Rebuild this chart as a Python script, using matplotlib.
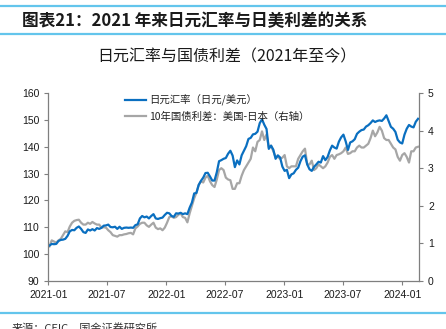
import matplotlib
matplotlib.use("Agg")
import matplotlib.pyplot as plt
import matplotlib.dates as mdates
from matplotlib.lines import Line2D
import pandas as pd

plt.rcParams['font.family'] = ['Liberation Sans', 'Noto Sans CJK SC', 'DejaVu Sans']
CJK = ['Noto Sans CJK SC', 'DejaVu Sans']

# weekly readings (Mondays), 2021-01-04 .. 2024-02-19
usdjpy = [
    103.2, 103.8, 103.7, 103.8,
    104.9, 105.3, 105.4, 105.7,
    106.8, 108.5, 109.0, 108.9, 109.8,
    110.3, 109.4, 108.2, 107.9,
    109.2, 108.8, 109.3, 108.8, 109.7,
    109.4, 109.8, 110.6, 110.7,
    111.0, 110.1, 110.0, 110.2,
    109.4, 110.2, 109.4, 109.8, 109.9,
    109.8, 109.9, 109.8, 110.8,
    111.1, 113.3, 114.2, 113.7,
    114.0, 113.3, 114.2, 114.9, 113.3,
    113.1, 113.4, 113.6, 114.6,
    115.4, 115.2, 114.2, 113.9, 115.2,
    115.1, 115.4, 114.9, 115.2,
    114.9, 117.3, 119.2, 122.6,
    122.8, 125.8, 127.3, 128.5,
    130.2, 130.3, 128.9, 127.4, 127.4,
    130.5, 134.6, 135.0, 135.5,
    135.8, 137.4, 138.5, 136.7,
    132.4, 134.9, 133.4, 136.8, 138.5,
    140.2, 142.9, 143.3, 144.6,
    144.8, 145.6, 148.8, 150.2, 148.2,
    146.6, 139.2, 140.4, 138.9,
    135.5, 136.8, 136.0, 132.6,
    131.0, 131.4, 128.3, 129.7, 130.1,
    131.4, 132.2, 134.6, 136.3,
    136.8, 133.4, 131.6, 131.0,
    132.5, 133.4, 134.4, 134.1,
    136.5, 135.0, 136.2, 138.6, 140.4,
    139.7, 139.3, 141.9, 143.5,
    144.5, 142.0, 138.8, 141.6, 142.0,
    142.8, 144.8, 145.6, 146.2,
    146.4, 147.5, 148.0, 148.8,
    149.8, 149.2, 149.6, 149.8, 149.6,
    150.5, 151.7, 149.6, 147.4,
    146.7, 145.5, 142.6, 141.6,
    141.2, 144.5, 146.7, 148.1, 147.5,
    147.2, 149.3, 150.4,
]

spread = [
    0.92, 1.08, 1.05, 1.02,
    1.08, 1.12, 1.22, 1.32,
    1.30, 1.45, 1.55, 1.60, 1.62,
    1.63, 1.55, 1.50, 1.50,
    1.55, 1.52, 1.57, 1.53, 1.50,
    1.50, 1.42, 1.43, 1.42,
    1.35, 1.30, 1.22, 1.20,
    1.18, 1.22, 1.22, 1.24, 1.25,
    1.27, 1.28, 1.24, 1.40,
    1.45, 1.52, 1.55, 1.55,
    1.48, 1.44, 1.50, 1.55, 1.42,
    1.38, 1.40, 1.35, 1.42,
    1.55, 1.70, 1.72, 1.68, 1.70,
    1.76, 1.80, 1.70, 1.68,
    1.56, 1.80, 2.00, 2.20,
    2.35, 2.55, 2.65, 2.62,
    2.75, 2.80, 2.65, 2.55, 2.50,
    2.70, 2.95, 3.00, 2.95,
    2.75, 2.70, 2.68, 2.45,
    2.45, 2.60, 2.60, 2.80, 2.95,
    3.05, 3.15, 3.25, 3.55,
    3.45, 3.70, 3.75, 3.98, 3.75,
    3.90, 3.55, 3.60, 3.45,
    3.30, 3.30, 3.25, 3.28,
    3.35, 3.05, 3.00, 3.05, 3.05,
    3.05, 3.25, 3.35, 3.45,
    3.52, 3.10, 3.10, 3.20,
    2.95, 3.00, 3.10, 3.05,
    3.00, 3.05, 3.15, 3.30, 3.35,
    3.25, 3.35, 3.37, 3.40,
    3.45, 3.55, 3.38, 3.40, 3.45,
    3.45, 3.55, 3.60, 3.55,
    3.55, 3.60, 3.65, 3.80,
    4.00, 3.85, 3.95, 4.10, 4.00,
    3.80, 3.75, 3.75, 3.65,
    3.55, 3.50, 3.30, 3.20,
    3.35, 3.40, 3.30, 3.15, 3.45,
    3.45, 3.55, 3.57,
]

dates = pd.date_range('2021-01-04', periods=len(usdjpy), freq='7D')
tick_dates = pd.to_datetime(['2021-01-01', '2021-07-01', '2022-01-01', '2022-07-01',
                             '2023-01-01', '2023-07-01', '2024-01-01'])

BLUE = '#0a6fc0'
GREY = '#a6a6a6'
SKY = '#63c5ec'
AXC = '#7f7f7f'

fig = plt.figure(figsize=(4.46, 3.29), dpi=100)
ax = fig.add_axes([0.1087, 0.1459, 0.8308, 0.5714])
ax2 = ax.twinx()

l1, = ax.plot(dates, usdjpy, color=BLUE, lw=1.6)
l2, = ax2.plot(dates, spread, color=GREY, lw=1.6)

ax.set_ylim(90, 160)
ax.set_yticks(range(90, 161, 10))
ax2.set_ylim(0, 5)
ax2.set_yticks(range(0, 6))
ax.set_xlim(pd.Timestamp('2021-01-01'), pd.Timestamp('2024-02-22'))
ax.set_xticks(tick_dates)
ax.xaxis.set_major_formatter(mdates.DateFormatter('%Y-%m'))

for a in (ax, ax2):
    a.spines['top'].set_visible(False)
    for s in ('left', 'right', 'bottom'):
        a.spines[s].set_color(AXC)
        a.spines[s].set_linewidth(0.9)
    a.tick_params(colors=AXC, labelcolor='#1a1a1a', labelsize=7.5, length=3, width=0.8)
ax.spines['right'].set_visible(False)
ax2.spines['left'].set_visible(False)
ax2.spines['bottom'].set_visible(False)

leg = ax.legend([l1, l2], ['日元汇率（日元/美元）', '10年国债利差：美国-日本（右轴）'],
                loc='upper left', bbox_to_anchor=(0.195, 1.015), frameon=False,
                prop={'family': CJK, 'size': 7.5}, handlelength=2.0,
                handletextpad=0.3, labelspacing=0.55, borderaxespad=0)
for t in leg.get_texts():
    t.set_color('#222222')
ax.set_zorder(ax2.get_zorder() + 1)
ax.patch.set_visible(False)

# header and footer decoration
for y in (1 - 6 / 329, 1 - 34 / 329, 1 - 313 / 329):
    fig.add_artist(Line2D([0, 1], [y, y], transform=fig.transFigure, color=SKY, lw=1.6))

fig.text(0.049, 1 - 21 / 329, '图表21：2021 年来日元汇率与日美利差的关系', family=CJK,
         fontsize=12, fontweight='bold', fontstyle='italic', color='#1a1a1a',
         ha='left', va='center')
fig.text(227 / 446, 1 - 57 / 329, '日元汇率与国债利差（2021年至今）', family=CJK,
         fontsize=11.5, color='#1a1a1a', ha='center', va='center')
fig.text(0.027, 1 - 328 / 329, '来源：CEIC，国金证券研究所', family=CJK,
         fontsize=8, color='#333333', ha='left', va='center')

fig.savefig('out.png', dpi=100)
